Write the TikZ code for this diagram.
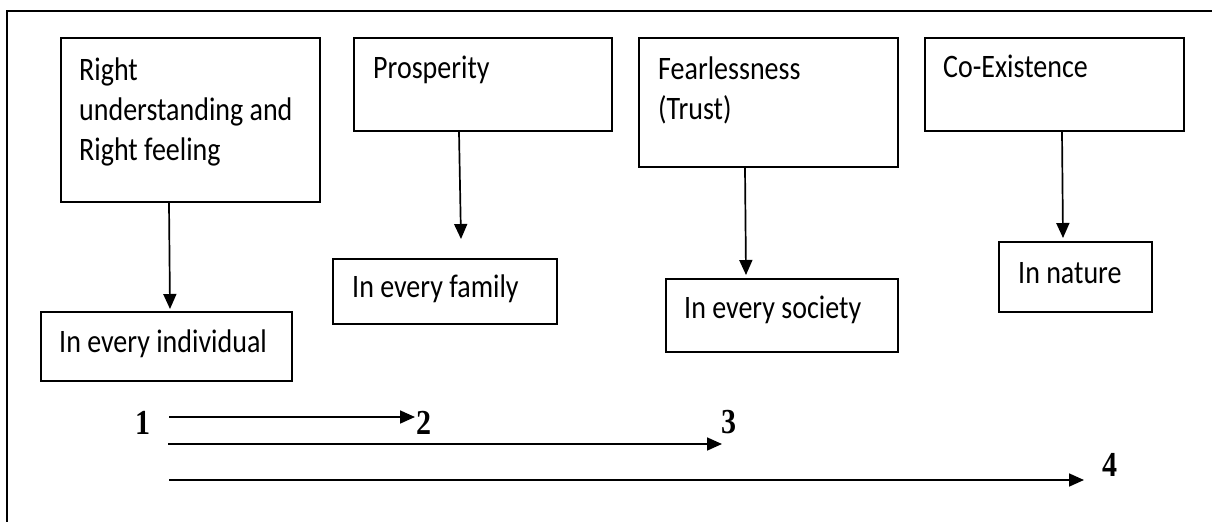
\documentclass[tikz,border=0pt]{standalone}
\usepackage{fontspec}
\setmainfont{Carlito}
\newfontfamily\numfont{Liberation Serif}
\usetikzlibrary{arrows.meta,calc}
\newcommand{\tall}[1]{\scalebox{1}[1.17]{#1}}
\tikzset{
  frame/.style={line width=2pt},
  box/.style={draw, line width=2pt, rectangle, inner sep=0pt, anchor=north west},
  txt/.style={inner sep=0pt, anchor=base west, font=\fontsize{28}{40}\selectfont},
  num/.style={inner sep=0pt, anchor=base west, font=\numfont\bfseries\fontsize{30}{36}\selectfont},
  arr/.style={line width=1.7pt, -{Triangle[length=15pt,width=13pt]}},
}
\begin{document}
\begin{tikzpicture}[x=1pt,y=-1pt]
\useasboundingbox (0,0) rectangle (1212,522);
% outer frame (top and left edges)
\draw[frame] (1212,11) -- (7,11) -- (7,522);

% upper row of boxes
\node[box, minimum width=259pt, minimum height=164pt] (A) at (60,37) {};
\node[box, minimum width=258pt, minimum height=93pt]  (B) at (353,37) {};
\node[box, minimum width=259pt, minimum height=129pt] (C) at (638,37) {};
\node[box, minimum width=259pt, minimum height=93pt]  (D) at (924,37) {};

\node[txt] (A1) at (79,80)  {\tall{Right}};
\node[txt] (A2) at (79,120) {\tall{understanding and}};
\node[txt] (A3) at (79,160) {\tall{Right feeling}};
\node[txt] (B1) at (373,78) {\tall{Prosperity}};
\node[txt] (C1) at (658,79) {\tall{Fearlessness}};
\node[txt] (C2) at (658,119) {\tall{(Trust)}};
\node[txt] (D1) at (943,77) {\tall{Co-Existence}};

% lower row of boxes
\node[box, minimum width=251pt, minimum height=69pt] (E) at (40,311) {};
\node[box, minimum width=224pt, minimum height=65pt] (F) at (332,258) {};
\node[box, minimum width=232pt, minimum height=73pt] (G) at (665,278) {};
\node[box, minimum width=153pt, minimum height=70pt] (H) at (998,241) {};

\node[txt] (E1) at (59,352)   {\tall{In every individual}};
\node[txt] (F1) at (352,297)  {\tall{In every family}};
\node[txt] (G1) at (684,318)  {\tall{In every society}};
\node[txt] (H1) at (1018,283) {\tall{In nature}};

% vertical connectors
\coordinate (aT) at (170,309);
\coordinate (bT) at (461,239);
\coordinate (cT) at (746,275);
\coordinate (dT) at (1063,238);
\draw[arr] ([xshift=-21.5pt]A.south) -- (aT);
\draw[arr] ([xshift=-24pt]B.south) -- (bT);
\draw[arr] ([xshift=-23.5pt]C.south) -- (cT);
\draw[arr] ([xshift=7.5pt]D.south) -- (dT);

% numbered scale
\node[num] (n1) at (135,434)  {\tall{1}};
\node[num] (n2) at (416,434)  {\tall{2}};
\node[num] (n3) at (721,433)  {\tall{3}};
\node[num] (n4) at (1102,476) {\tall{4}};

\coordinate (s1) at (169,417);
\coordinate (s2) at (168,444);
\coordinate (s3) at (169,480);
\coordinate (e1) at (415,417);
\coordinate (e2) at (722,444);
\coordinate (e3) at (1084,480);
\draw[arr] (s1) -- (e1);
\draw[arr] (s2) -- (e2);
\draw[arr] (s3) -- (e3);
\end{tikzpicture}
\end{document}
